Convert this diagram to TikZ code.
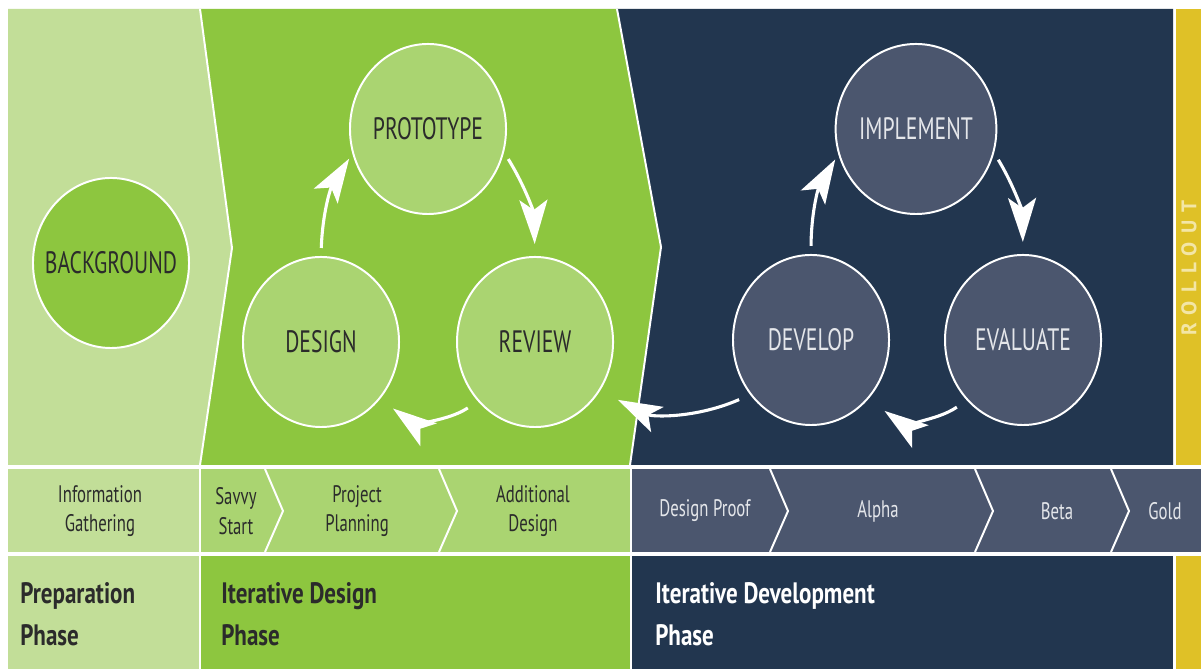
\documentclass[tikz,border=0pt]{standalone}
\usepackage{fontspec}
\setmainfont{PT Sans}
\newfontfamily\cond[FakeStretch=0.7]{PT Sans}
\newfontfamily\condb[FakeStretch=0.78]{PT Sans}
\newfontfamily\spaced[LetterSpace=40]{PT Sans}
\usepackage{xcolor}
\usepackage{tikz}
\usetikzlibrary{positioning,%
  shapes.geometric,%
  arrows.meta}

\definecolor{palegreen}{HTML}{C2DE98}
\definecolor{midgreen}{HTML}{8DC63F}
\definecolor{litegreen}{HTML}{AAD471}
\definecolor{navy}{HTML}{22364F}
\definecolor{slate}{HTML}{4B566E}
\definecolor{gold}{HTML}{DFC127}
\definecolor{darktext}{HTML}{2B2B2B}
\definecolor{lighttext}{HTML}{E4E6EA}
\definecolor{rolltext}{HTML}{F3E6A6}

\begin{document}
\begin{tikzpicture}
                    [x=0.025cm, y=0.025cm,
                    gc/.style={ellipse,
                        minimum width=3.9cm, minimum height=4.25cm,
                        inner sep=0pt, line width=1.4pt,
                        fill=litegreen, draw=white, text=darktext,
                        font=\cond\fontsize{22}{24}\selectfont},
                    nc/.style={gc,
                        fill=slate, text=lighttext},
                    cyc/.style={draw=white, line width=2.2pt,
                        -{Stealth[length=1.1cm, width=0.7cm, inset=0.25cm]}},
                    sep/.style={draw=white, line width=1.4pt},
                    stg/.style={align=center, text=darktext,
                        font=\cond\fontsize{17}{21}\selectfont},
                    phs/.style={align=left, anchor=west, inner sep=0pt,
                        text=darktext,
                        font=\condb\bfseries\fontsize{21}{30}\selectfont}]

                    \useasboundingbox (0,0) rectangle (1201,669);
                    \fill[white] (0,0) rectangle (1201,669);

                    % top band
                    \fill[palegreen] (8,204) -- (8,660) -- (200,660)
                        -- (232,421) -- (200,204) -- cycle;
                    \fill[midgreen] (200,660) -- (617,660) -- (661,422)
                        -- (630,204) -- (200,204) -- (232,421) -- cycle;
                    \fill[navy] (617,660) -- (1173,660) -- (1173,204)
                        -- (630,204) -- (661,422) -- cycle;
                    \fill[gold] (1176,204) rectangle (1201,660);
                    \draw[sep] (200,660) -- (232,421) -- (200,204);
                    \draw[sep] (617,660) -- (661,422) -- (630,204);

                    % middle band
                    \fill[palegreen] (8,117) rectangle (200,200);
                    \fill[litegreen] (200,117) rectangle (631,200);
                    \fill[slate] (631,117) rectangle (1201,200);
                    \draw[sep] (200,117) -- (200,200);
                    \draw[sep] (631,117) -- (631,200);
                    \foreach \a in {265,439,770,975,1111}
                        \draw[sep] (\a,200) -- (\a+18,158) -- (\a,117);

                    % bottom band
                    \fill[palegreen] (8,0) rectangle (200,113);
                    \fill[midgreen] (200,0) rectangle (631,113);
                    \fill[navy] (631,0) rectangle (1173,113);
                    \fill[gold] (1176,0) rectangle (1201,113);
                    \draw[sep] (200,0) -- (200,113);
                    \draw[sep] (631,0) -- (631,113);

                    % circles
                    \node[gc, fill=midgreen] (bg) at (111,406)
                        {\makebox[0pt]{BACKGROUND}};
                    \node[gc] (design) at (321,327)
                        {DESIGN};
                    \node[gc, right=1.4cm of design]
                        (review) {REVIEW};
                    \node[gc] (proto) at (428,540)
                        {PROTOTYPE};
                    \node[nc] (dev) at (811,329)
                        {DEVELOP};
                    \node[nc, right=1.35cm of dev]
                        (eval) {EVALUATE};
                    \node[nc] (impl) at (916,540)
                        {IMPLEMENT};

                    % cycle arrows
                    \draw[cyc, shorten <=0.2cm, shorten >=0.15cm]
                        (design.north) to[bend left=15] (proto.198);
                    \draw[cyc, shorten <=0.2cm, shorten >=0.3cm]
                        (proto.-17) to[bend left=15] (review.north);
                    \draw[cyc, shorten <=0.3cm, shorten >=0.4cm]
                        (review.226) to[bend left=35] (design.-44);
                    \draw[cyc, shorten <=0.3cm, shorten >=0.5cm]
                        (dev.222) to[bend left=25] (review.-37);
                    \draw[cyc, shorten <=0.3cm, shorten >=0.5cm]
                        (eval.227) to[bend left=35] (dev.-46);
                    \draw[cyc, shorten <=0.2cm, shorten >=0.15cm]
                        (dev.north) to[bend left=15] (impl.198);
                    \draw[cyc, shorten <=0.2cm, shorten >=0.3cm]
                        (impl.-17) to[bend left=15] (eval.north);

                    % steps
                    \node[stg] (info) at (100,158)
                        {Information\\Gathering};
                    \node[stg] (savvy) at (236,158)
                        {Savvy\\Start};
                    \node[stg] (plan) at (357,158)
                        {Project\\Planning};
                    \node[stg] (adddes) at (533,158)
                        {Additional\\Design};
                    \node[stg, text=lighttext] (proof) at (705,158)
                        {Design Proof};
                    \node[stg, text=lighttext] (alpha) at (878,158)
                        {Alpha};
                    \node[stg, text=lighttext] (beta) at (1057,158)
                        {Beta};
                    \node[stg, text=lighttext] (goldst) at (1165,158)
                        {Gold};

                    % phases
                    \node[phs] (prep) at (20,55)
                        {Preparation\\Phase};
                    \node[phs] (idp) at (221,55)
                        {Iterative Design\\Phase};
                    \node[phs, text=white] (idev) at (655,55)
                        {Iterative Development\\Phase};
                    \node[rotate=90, text=rolltext,
                        font=\spaced\bfseries\fontsize{15}{15}\selectfont]
                        (roll) at (1189,401) {ROLLOUT};
                \end{tikzpicture}
\end{document}
